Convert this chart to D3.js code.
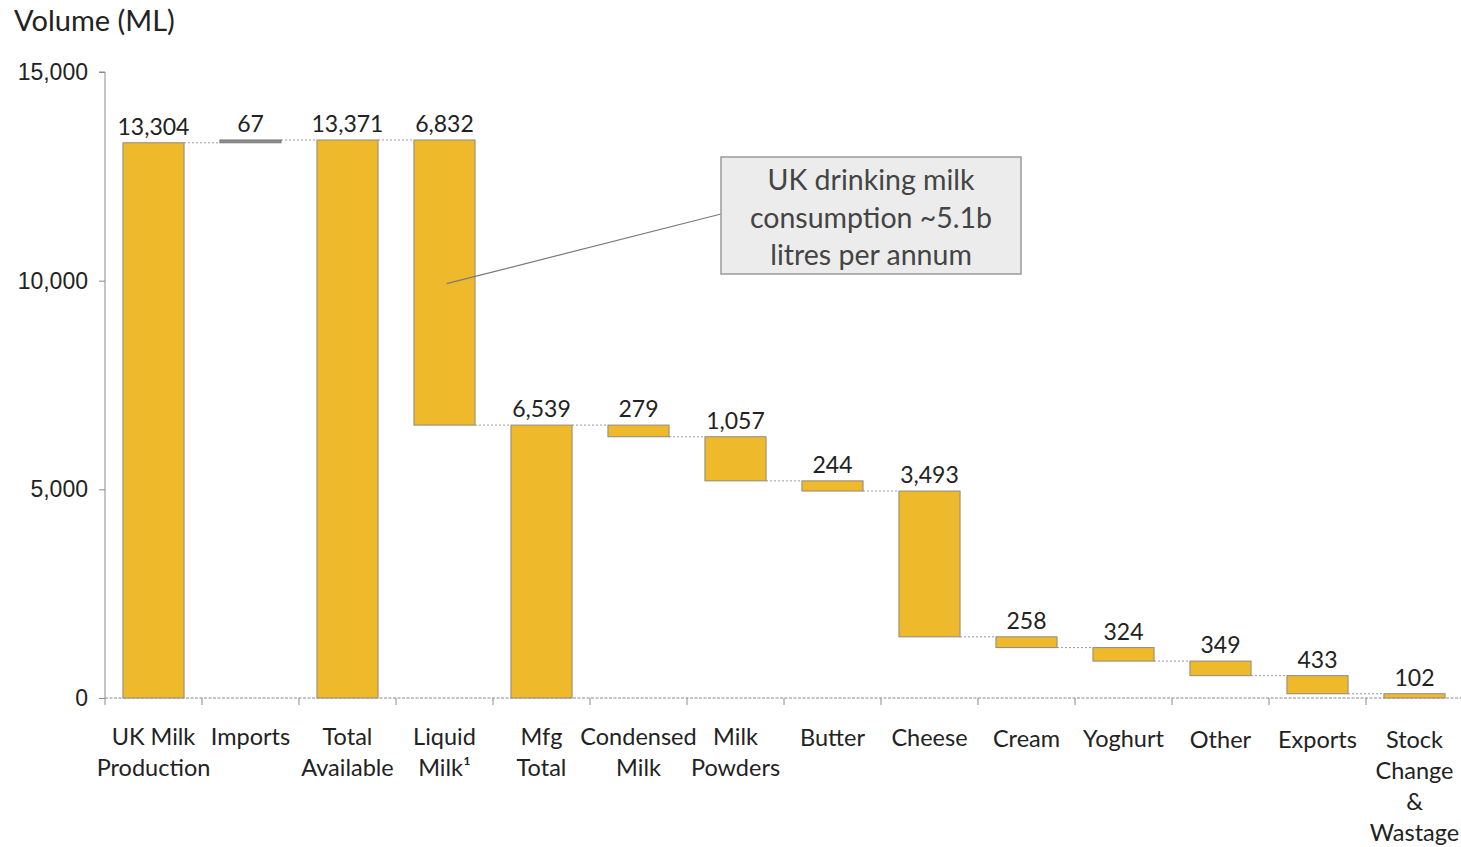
<!DOCTYPE html>
<html>
<head>
<meta charset="utf-8">
<script src="https://cdn.jsdelivr.net/npm/d3@7"></script>
<style>
  html, body { margin: 0; padding: 0; background: #fff; }
  svg { display: block; font-family: Lato, "Liberation Sans", sans-serif; }
</style>
</head>
<body>
<svg id="chart" width="1461" height="847"></svg>
<script>
// UK milk flows (million litres)
const categories = [
  "UK Milk Production", "Imports", "Total Available", "Liquid Milk", "Mfg Total",
  "Condensed Milk", "Milk Powders", "Butter", "Cheese", "Cream",
  "Yoghurt", "Other", "Exports", "Stock Change & Wastage"
];
const labelLines = [
  ["UK Milk", "Production"], ["Imports"], ["Total", "Available"], ["Liquid", "Milk¹"],
  ["Mfg", "Total"], ["Condensed", "Milk"], ["Milk", "Powders"], ["Butter"], ["Cheese"],
  ["Cream"], ["Yoghurt"], ["Other"], ["Exports"], ["Stock", "Change", "&", "Wastage"]
];
const values = [13304, 67, 13371, 6832, 6539, 279, 1057, 244, 3493, 258, 324, 349, 433, 102];
// "total" bars start at zero, "up" adds to the running level, "down" subtracts
const kinds = ["total", "up", "total", "down", "total", "down", "down", "down", "down",
               "down", "down", "down", "down", "down"];
const yTicks = [0, 5000, 10000, 15000];
const noteLines = ["UK drinking milk", "consumption ~5.1b", "litres per annum"];

const svg = d3.select("#chart");
const y0 = 698, yTop = 72, xLeft = 105, xRight = 1463;

const x = d3.scaleBand().domain(categories).range([xLeft, xRight])
  .paddingInner(0.37).paddingOuter(0.185);
const y = d3.scaleLinear().domain([0, 15000]).range([y0, yTop]);

// running levels for each bar
let level = 0;
const bars = categories.map((c, i) => {
  let lo, hi;
  if (kinds[i] === "total") { lo = 0; hi = values[i]; level = values[i]; }
  else if (kinds[i] === "up") { lo = level; hi = level + values[i]; level = hi; }
  else { hi = level; lo = level - values[i]; level = lo; }
  const end = kinds[i] === "down" ? lo : hi;
  return { c, i, lo, hi, end, v: values[i], kind: kinds[i] };
});

// y axis
const yAxis = svg.append("g").attr("transform", `translate(${xLeft},0)`)
  .call(d3.axisLeft(y).tickValues(yTicks).tickFormat(d3.format(",")).tickSize(6).tickPadding(11));
yAxis.select(".domain").attr("stroke", "#8a8a8a").attr("d", `M-6,${yTop}H0V${y0}`);
yAxis.selectAll(".tick line").attr("stroke", "#8a8a8a");
yAxis.selectAll(".tick text").attr("font-size", 23).attr("fill", "#222");

// x axis baseline and boundary ticks
const xAxis = svg.append("g").attr("transform", `translate(0,${y0})`)
  .call(d3.axisBottom(x).tickSize(0).tickFormat(""));
xAxis.select(".domain").attr("stroke", "#8a8a8a").attr("stroke-dasharray", "3,1.5")
  .attr("d", `M${xLeft},0H${1461}`);
const step = x.step();
svg.append("g").selectAll("line")
  .data(d3.range(categories.length + 1).filter(k => k * step + xLeft < 1461))
  .join("line")
  .attr("x1", k => xLeft + k * step).attr("x2", k => xLeft + k * step)
  .attr("y1", y0).attr("y2", y0 + 7)
  .attr("stroke", "#8a8a8a");

// category labels
const labels = svg.append("g").attr("font-size", 23.5).attr("fill", "#222").attr("text-anchor", "middle");
categories.forEach((c, i) => {
  const t = labels.append("text")
    .attr("x", x(c) + x.bandwidth() / 2)
    .attr("y", 745 + (i >= 7 ? 1 + (i - 7) * 0.4 : 0));
  labelLines[i].forEach((ln, j) => {
    t.append("tspan").attr("x", x(c) + x.bandwidth() / 2).attr("dy", j === 0 ? 0 : 31).text(ln);
  });
});

// dotted connectors between consecutive bars
const conn = svg.append("g").attr("stroke", "#9a9a9a").attr("stroke-dasharray", "2,2").attr("stroke-width", 1);
bars.slice(0, -1).forEach((b, k) => {
  const nb = bars[k + 1];
  conn.append("line")
    .attr("x1", x(b.c) + x.bandwidth()).attr("x2", x(nb.c))
    .attr("y1", y(b.end)).attr("y2", y(b.end));
});

// bars
svg.append("g").selectAll("rect").data(bars).join("rect")
  .attr("x", d => x(d.c))
  .attr("width", x.bandwidth())
  .attr("y", d => y(d.hi))
  .attr("height", d => Math.max(1, y(d.lo) - y(d.hi)))
  .attr("fill", d => d.kind === "up" ? "#8d8d8d" : "#EFB92C")
  .attr("stroke", d => d.kind === "up" ? "#777" : "#8e8a80")
  .attr("stroke-width", 1);

// value labels
svg.append("g").attr("font-size", 23).attr("fill", "#222").attr("text-anchor", "middle")
  .selectAll("text").data(bars).join("text")
  .attr("x", d => x(d.c) + x.bandwidth() / 2)
  .attr("y", d => y(d.hi) - 8)
  .text(d => d3.format(",")(d.v));

// title
svg.append("text").attr("x", 14).attr("y", 31).attr("font-size", 29).attr("fill", "#222")
  .text("Volume (ML)");

// callout on the liquid milk bar
const liq = bars[3];
svg.append("line")
  .attr("x1", x(liq.c) + x.bandwidth() / 2 + 2).attr("y1", y(10000) + 3)
  .attr("x2", 721).attr("y2", 214)
  .attr("stroke", "#7a7a7a").attr("stroke-width", 1.2);
svg.append("rect").attr("x", 721).attr("y", 157).attr("width", 300).attr("height", 117)
  .attr("fill", "#ececec").attr("stroke", "#9a9a9a").attr("stroke-width", 1.5);
const note = svg.append("text").attr("font-size", 28.5).attr("fill", "#444").attr("text-anchor", "middle");
noteLines.forEach((ln, j) => {
  note.append("tspan").attr("x", 871).attr("y", 190 + j * 37.5).text(ln);
});
</script>
</body>
</html>
